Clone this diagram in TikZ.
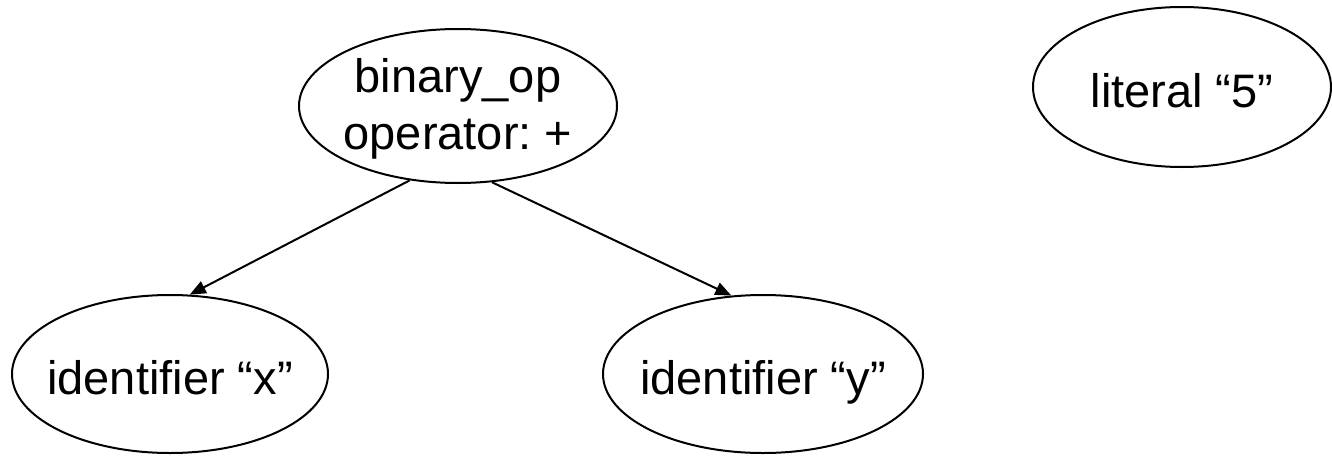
\documentclass[tikz,border=0pt]{standalone}
\usepackage{fontspec}
\setmainfont{Liberation Sans}
\usetikzlibrary{shapes.geometric,arrows.meta}

\tikzset{
  astnode/.style={ellipse, draw=black, line width=2pt, inner sep=0pt, fill=white},
  asttext/.style={font=\fontsize{47}{57}\selectfont\frenchspacing, align=center, inner sep=0pt},
  astline/.style={asttext, text height=40pt, text depth=0pt},
  edge/.style={line width=2pt, -{Triangle[length=16pt,width=13pt]}}
}

\begin{document}
\begin{tikzpicture}[x=1pt, y=-1pt]
  \useasboundingbox[fill=white] (0,0) rectangle (1332,455);

  % parse tree nodes
  \node[astnode, minimum width=318pt, minimum height=154pt,
        label={[asttext, yshift=-3pt]center:binary\_op\\operator: +}] (bin) at (458,106) {};
  \node[astnode, minimum width=298pt, minimum height=160pt,
        label={[astline]center:literal “5”}] (lit) at (1182,87) {};
  \node[astnode, minimum width=316pt, minimum height=158pt,
        label={[astline]center:identifier “x”}] (idx) at (170,374) {};
  \node[astnode, minimum width=320pt, minimum height=158pt,
        label={[astline]center:identifier “y”}] (idy) at (763,374) {};

  % operand edges
  \draw[edge] (bin.-123) -- (idx.76);
  \draw[edge] (bin.-66) -- (idy.112);
\end{tikzpicture}
\end{document}
